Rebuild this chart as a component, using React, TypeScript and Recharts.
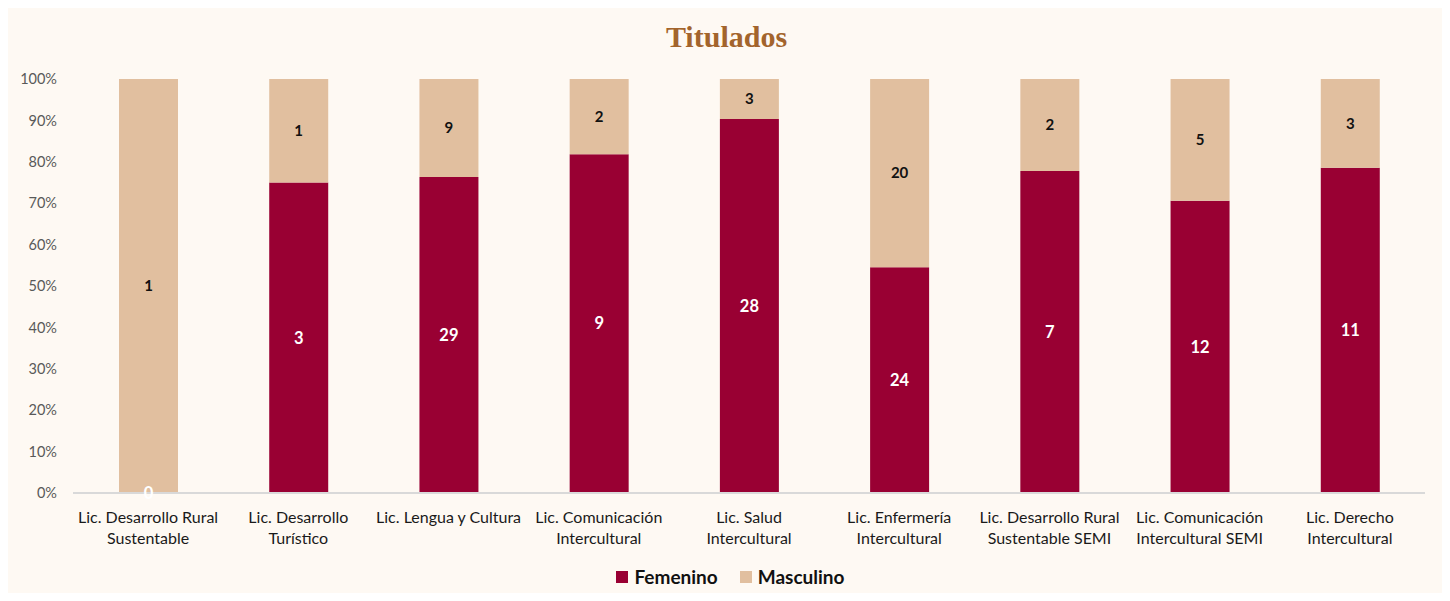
import React from 'react'
import { BarChart, Bar, XAxis, YAxis, Legend, LabelList } from 'recharts'

const carreras = [
  'Lic. Desarrollo Rural\nSustentable',
  'Lic. Desarrollo\nTurístico',
  'Lic. Lengua y Cultura',
  'Lic. Comunicación\nIntercultural',
  'Lic. Salud\nIntercultural',
  'Lic. Enfermería\nIntercultural',
  'Lic. Desarrollo Rural\nSustentable SEMI',
  'Lic. Comunicación\nIntercultural SEMI',
  'Lic. Derecho\nIntercultural',
]
const femenino = [0, 3, 29, 9, 28, 24, 7, 12, 11]
const masculino = [1, 1, 9, 2, 3, 20, 2, 5, 3]
const yTicks = [0, 0.1, 0.2, 0.3, 0.4, 0.5, 0.6, 0.7, 0.8, 0.9, 1]

const data = carreras.map((c, i) => ({ carrera: c, fem: femenino[i], masc: masculino[i] }))

const FEM = '#990033'
const MASC = '#e1bf9f'
const FONT = 'Lato, "Open Sans", sans-serif'

const CatTick = (props: any) => {
  const { x, y, payload } = props
  const lines = String(payload.value).split('\n')
  return (
    <text x={x} y={y} textAnchor="middle" fontFamily={FONT} fontSize={16} fill="#1a1a1a">
      {lines.map((l, i) => (
        <tspan key={i} x={x} dy={i === 0 ? 22 : 21}>{l}</tspan>
      ))}
    </text>
  )
}

const LegendBox = () => (
  <div style={{ display: 'flex', justifyContent: 'center', alignItems: 'center', fontFamily: FONT, fontWeight: 700, fontSize: 19, color: '#111', paddingLeft: 8 }}>
    <span style={{ width: 12, height: 12, background: FEM, display: 'inline-block', marginRight: 6 }} />
    <span style={{ marginRight: 22 }}>Femenino</span>
    <span style={{ width: 12, height: 12, background: MASC, display: 'inline-block', marginRight: 6 }} />
    <span>Masculino</span>
  </div>
)

export default function App() {
  return (
    <div style={{ background: '#f6f6f6', width: 1450, height: 601, position: 'relative', margin: -8 }}>
      <div style={{ position: 'absolute', left: 8, top: 8, width: 1437, height: 593, background: '#fef9f3' }}>
        <div style={{ position: 'absolute', top: 12, width: '100%', textAlign: 'center', fontFamily: '"Liberation Serif", serif', fontWeight: 700, fontSize: 30, color: '#a3642c' }}>
          Titulados
        </div>
        <BarChart width={1437} height={593} data={data} stackOffset="expand" margin={{ top: 71, right: 20, bottom: 0, left: 0 }}>
          <XAxis dataKey="carrera" tick={<CatTick />} tickLine={false} axisLine={{ stroke: '#d9d9d9', strokeWidth: 2 }} interval={0} height={85} />
          <YAxis ticks={yTicks} domain={[0, 1]} tickFormatter={(v) => `${Math.round(v * 100)}%`} axisLine={false} tickLine={false} tickMargin={10} width={65} tick={{ fontFamily: FONT, fontSize: 14.5, fill: '#595959' }} />
          <Legend verticalAlign="bottom" content={<LegendBox />} wrapperStyle={{ bottom: 13, left: 0, width: 1437 }} />
          <Bar dataKey="fem" name="Femenino" stackId="a" fill={FEM} barSize={59} minPointSize={0.01} isAnimationActive={false}>
            <LabelList dataKey="fem" position="center" fill="#ffffff" fontFamily={FONT} fontWeight={700} fontSize={16.5} />
          </Bar>
          <Bar dataKey="masc" name="Masculino" stackId="a" fill={MASC} barSize={59} isAnimationActive={false}>
            <LabelList dataKey="masc" position="center" fill="#111" fontFamily={FONT} fontWeight={700} fontSize={15} />
          </Bar>
        </BarChart>
      </div>
    </div>
  )
}
